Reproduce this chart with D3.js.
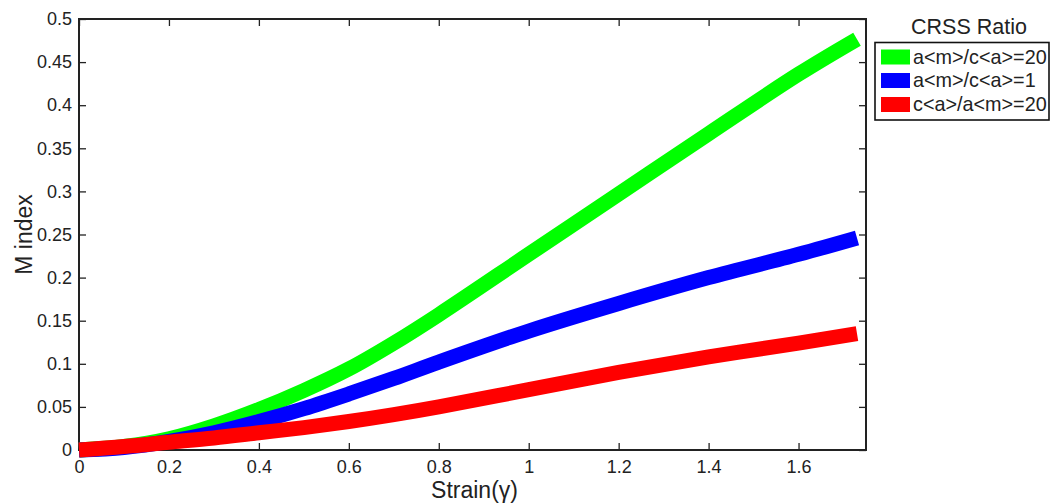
<!DOCTYPE html>
<html>
<head>
<meta charset="utf-8">
<script src="https://cdn.jsdelivr.net/npm/d3@7"></script>
<style>
  html, body { margin: 0; padding: 0; background: #fff; }
  svg { display: block; font-family: "Liberation Sans", Arial, sans-serif; }
</style>
</head>
<body>
<svg id="chart" width="1054" height="504"></svg>
<script>
// ---- data ----
const strain = [0, 0.1, 0.2, 0.3, 0.4, 0.5, 0.6, 0.7, 0.8, 1.0, 1.2, 1.4, 1.6, 1.73];
const seriesNames = ["a<m>/c<a>=20", "a<m>/c<a>=1", "c<a>/a<m>=20"];
const greenValues = [0, 0.004, 0.013, 0.028, 0.047, 0.069, 0.094, 0.124, 0.157, 0.227, 0.297, 0.367, 0.436, 0.4766];
const blueValues  = [0, 0.003, 0.010, 0.020, 0.033, 0.048, 0.065, 0.083, 0.102, 0.138, 0.170, 0.200, 0.227, 0.246];
const redValues   = [0, 0.004, 0.009, 0.014, 0.020, 0.026, 0.033, 0.041, 0.050, 0.070, 0.090, 0.108, 0.124, 0.135];
const seriesColors = ["#00ff00", "#0000ff", "#ff0000"];
const xTicks = [0, 0.2, 0.4, 0.6, 0.8, 1, 1.2, 1.4, 1.6];
const yTicks = [0, 0.05, 0.1, 0.15, 0.2, 0.25, 0.3, 0.35, 0.4, 0.45, 0.5];
const xLabel = "Strain(\u03b3)";
const yLabel = "M index";
const legendTitle = "CRSS Ratio";

// ---- layout ----
const pL = 79, pT = 19, pR = 866, pB = 450;
const svg = d3.select("#chart");
const x = d3.scaleLinear().domain([0, 1.75]).range([pL, pR]);
const y = d3.scaleLinear().domain([0, 0.5]).range([pB, pT]);

const axisColor = "#222";
const textColor = "#222";
const tickLen = 7;

// axes (ticks inward, mirrored)
const gB = svg.append("g").attr("transform", `translate(0,${pB})`)
  .call(d3.axisBottom(x).tickValues(xTicks).tickSizeInner(-tickLen).tickSizeOuter(0).tickPadding(10).tickFormat(d3.format("~g")));
const gT = svg.append("g").attr("transform", `translate(0,${pT})`)
  .call(d3.axisTop(x).tickValues(xTicks).tickSizeInner(-tickLen).tickSizeOuter(0).tickFormat(""));
const gL = svg.append("g").attr("transform", `translate(${pL},0)`)
  .call(d3.axisLeft(y).tickValues(yTicks).tickSizeInner(-tickLen).tickSizeOuter(0).tickPadding(7).tickFormat(d3.format("~g")));
const gR = svg.append("g").attr("transform", `translate(${pR},0)`)
  .call(d3.axisRight(y).tickValues(yTicks).tickSizeInner(-tickLen).tickSizeOuter(0).tickFormat(""));

[gB, gT, gL, gR].forEach(g => {
  g.select(".domain").remove();
  g.selectAll(".tick line").attr("stroke", axisColor).attr("stroke-width", 1.3);
  g.selectAll(".tick text").attr("fill", textColor).style("font-size", "18px")
    .style("font-family", "'Liberation Sans', Arial, sans-serif");
});
gB.selectAll(".tick text").attr("dy", "0.71em");

// frame
svg.append("rect")
  .attr("x", pL).attr("y", pT)
  .attr("width", pR - pL).attr("height", pB - pT)
  .attr("fill", "none").attr("stroke", axisColor).attr("stroke-width", 2);

// lines
const series = [greenValues, blueValues, redValues];
const line = d3.line()
  .x((d, i) => x(strain[i]))
  .y(d => y(d))
  .curve(d3.curveCatmullRom.alpha(0.5));

series.forEach((vals, k) => {
  svg.append("path")
    .datum(vals)
    .attr("d", line)
    .attr("fill", "none")
    .attr("stroke", seriesColors[k])
    .attr("stroke-width", 15)
    .attr("stroke-linecap", "butt")
    .attr("stroke-linejoin", "round");
});

// axis labels
svg.append("text")
  .attr("x", (pL + pR) / 2 + 2).attr("y", 498)
  .attr("text-anchor", "middle")
  .attr("fill", textColor)
  .style("font-size", "23px")
  .text(xLabel);

svg.append("text")
  .attr("transform", `translate(32,${(pT + pB) / 2}) rotate(-90)`)
  .attr("text-anchor", "middle")
  .attr("fill", textColor)
  .style("font-size", "23px")
  .text(yLabel);

// legend
svg.append("text")
  .attr("x", 969).attr("y", 34)
  .attr("text-anchor", "middle")
  .attr("fill", textColor)
  .style("font-size", "21.5px")
  .text(legendTitle);

svg.append("rect")
  .attr("x", 875).attr("y", 42.5)
  .attr("width", 174).attr("height", 77.5)
  .attr("fill", "#fff").attr("stroke", "#111").attr("stroke-width", 1.6);

const rowY = [57, 80.5, 104.5];
seriesNames.forEach((name, k) => {
  svg.append("rect")
    .attr("x", 881).attr("y", rowY[k] - 7.5)
    .attr("width", 29).attr("height", 15)
    .attr("fill", seriesColors[k]);
  svg.append("text")
    .attr("x", 913).attr("y", rowY[k])
    .attr("dy", "0.35em")
    .attr("fill", textColor)
    .style("font-size", "19.8px")
    .text(name);
});
</script>
</body>
</html>
